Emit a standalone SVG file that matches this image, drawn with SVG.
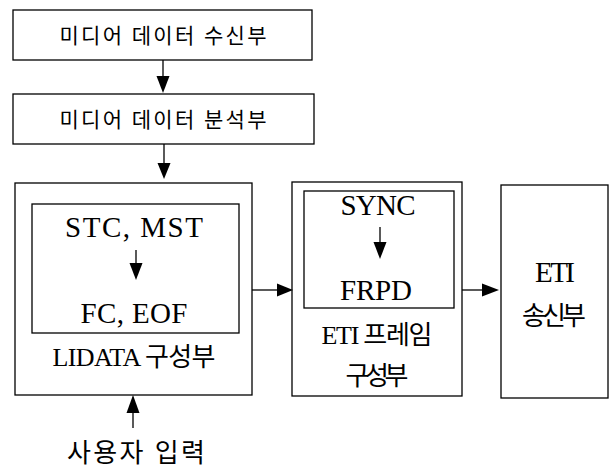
<svg xmlns="http://www.w3.org/2000/svg" width="609" height="468" viewBox="0 0 609 468">
  <style>
    .box { fill: #fff; stroke: #000; stroke-width: 1.3; }
    .inner { fill: none; stroke: #000; stroke-width: 1.3; }
    .wire { fill: none; stroke: #000; stroke-width: 1.3; }
    .head { fill: #000; stroke: none; }
    text { font-family: "Liberation Serif", "Noto Sans CJK KR", serif; fill: #000; text-anchor: middle; }
    .ko { font-size: 21px; }
    .lat { font-size: 29px; }
    .lbl { font-size: 26px; }
  </style>
  <rect width="609" height="468" fill="#fff"/>

  <g id="media-receiver">
    <rect class="box" x="13" y="10" width="299" height="50"/>
    <text class="ko" x="163" y="43" textLength="207" lengthAdjust="spacing">미디어 데이터 수신부</text>
  </g>

  <g id="media-analyzer">
    <rect class="box" x="13" y="94" width="301" height="50"/>
    <text class="ko" x="163" y="127" textLength="207" lengthAdjust="spacing">미디어 데이터 분석부</text>
  </g>

  <g id="lidata-builder">
    <rect class="box" x="15" y="183" width="237" height="212"/>
    <rect class="inner" x="32" y="204" width="207" height="129"/>
    <text class="lat" x="134" y="237" textLength="138" lengthAdjust="spacing">STC, MST</text>
    <line class="wire" x1="136" y1="250" x2="136" y2="266"/>
    <polygon class="head" points="129.5,263 142.5,263 136,280"/>
    <text class="lat" x="134" y="323" textLength="107" lengthAdjust="spacing">FC, EOF</text>
    <text class="lbl" x="134" y="366" textLength="163" lengthAdjust="spacing">LIDATA 구성부</text>
  </g>

  <g id="eti-frame-builder">
    <rect class="box" x="292" y="182" width="170" height="214"/>
    <rect class="inner" x="304" y="191" width="150" height="117"/>
    <text class="lat" x="378" y="215" textLength="75" lengthAdjust="spacing">SYNC</text>
    <line class="wire" x1="380" y1="227" x2="380" y2="245"/>
    <polygon class="head" points="373.5,242 386.5,242 380,259"/>
    <text class="lat" x="376" y="300" textLength="72" lengthAdjust="spacing">FRPD</text>
    <text class="lbl" x="377" y="344" textLength="111" lengthAdjust="spacing">ETI 프레임</text>
    <text class="lbl" x="377" y="385" textLength="63" lengthAdjust="spacing">구성부</text>
  </g>

  <g id="eti-transmitter">
    <rect class="box" x="501" y="185" width="107" height="213"/>
    <text class="lat" x="555" y="282" textLength="40" lengthAdjust="spacing">ETI</text>
    <text class="lbl" x="554" y="325" textLength="64" lengthAdjust="spacing">송신부</text>
  </g>

  <g id="user-input">
    <text class="lbl" x="136" y="462" textLength="138" lengthAdjust="spacing">사용자 입력</text>
  </g>

  <g id="connectors">
    <line class="wire" x1="163" y1="60" x2="163" y2="78"/>
    <polygon class="head" points="156.5,76 169.5,76 163,93"/>
    <line class="wire" x1="164" y1="144" x2="164" y2="165"/>
    <polygon class="head" points="157.5,163 170.5,163 164,179"/>
    <line class="wire" x1="252" y1="290" x2="279" y2="290"/>
    <polygon class="head" points="277,283.5 277,296.5 293,290"/>
    <line class="wire" x1="462" y1="290" x2="484" y2="290"/>
    <polygon class="head" points="482,283.5 482,296.5 499,290"/>
    <line class="wire" x1="133" y1="428" x2="133" y2="411"/>
    <polygon class="head" points="126.5,413 139.5,413 133,395"/>
  </g>
</svg>
